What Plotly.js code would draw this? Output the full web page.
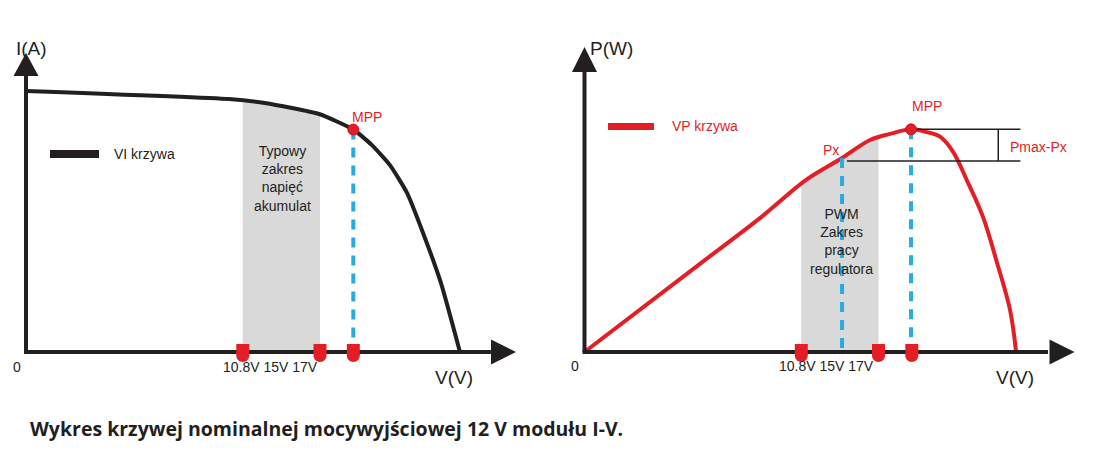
<!DOCTYPE html>
<html>
<head>
<meta charset="utf-8">
<script src="https://cdn.plot.ly/plotly-3.0.1.min.js"></script>
<style>html,body{margin:0;padding:0;background:#fff;}#chart{width:1093px;height:454px;}</style>
</head>
<body>
<div id="chart"></div>
<script>
// ---------- data ----------
// VI curve (left panel): voltage [V-ish units], current [arbitrary units]
const viVoltage = [0, 10.36, 12.19, 14.95, 16.7, 17.65, 18.57, 19.44, 20.20, 21.17, 22.14];
const viCurrent = [8.73, 8.46, 8.33, 7.96, 7.44, 6.92, 6.25, 5.32, 4.08, 2.31, 0];
// VP curve (right panel): voltage, power
const vpVoltage = [0, 5.89, 8.95, 11.34, 13.14, 14.57, 15.59, 16.66, 17.46, 18.14, 18.80, 19.50, 20.33, 21.05, 21.71, 22.02];
const vpPower   = [0, 28.9, 43.9, 56.6, 63.6, 69.5, 71.5, 73.0, 72.1, 70.6, 65.7, 56.4, 44.3, 29.2, 13.8, 0];
// battery / PWM range and marker positions on the voltage axis
const bandVoltage = [11.06, 15.0];
const axisMarkVoltage = [11.06, 15.0, 16.7];
// maximum power points and Px
const mppLeft = {v: 16.7, i: 7.44};
const mppRight = {v: 16.66, p: 73.0};
const pxPoint = {v: 13.14, p: 63.6};
// Pmax-Px bracket
const bracketLevels = [73.0, 62.6];
const bracketStart = [16.66, 13.39];
const bracketEnd = 22.24;
const bracketBar = 21.11;
// tick labels
const markLabel = "10.8V 15V 17V";

// ---------- helpers ----------
const W = 1093, H = 454;
const px = x => x / W;
const py = y => 1 - y / H;
function interp(xs, ys, x) {
  for (let k = 0; k < xs.length - 1; k++) {
    if (x >= xs[k] && x <= xs[k + 1]) {
      const t = (x - xs[k]) / (xs[k + 1] - xs[k]);
      return ys[k] + t * (ys[k + 1] - ys[k]);
    }
  }
  return 0;
}
function bandPolygon(xs, ys) {
  const bx = [bandVoltage[0]], by = [interp(xs, ys, bandVoltage[0])];
  xs.forEach((x, k) => { if (x > bandVoltage[0] && x < bandVoltage[1]) { bx.push(x); by.push(ys[k]); } });
  bx.push(bandVoltage[1]); by.push(interp(xs, ys, bandVoltage[1]));
  bx.push(bandVoltage[1], bandVoltage[0]); by.push(0, 0);
  return {x: bx, y: by};
}

const INK = '#231f20', RED = '#e31e24', BLUE = '#29abe2', GRAY = '#d9d9d9';
const FONT = 'Liberation Sans, Arial, sans-serif';

const bandL = bandPolygon(viVoltage, viCurrent);
const bandR = bandPolygon(vpVoltage, vpPower);

const traces = [
  // left panel
  {x: bandL.x, y: bandL.y, xaxis: 'x', yaxis: 'y', type: 'scatter', mode: 'lines', fill: 'toself', fillcolor: GRAY, line: {width: 0, color: GRAY}, hoverinfo: 'skip'},
  {x: viVoltage, y: viCurrent, xaxis: 'x', yaxis: 'y', type: 'scatter', mode: 'lines', line: {color: INK, width: 4, shape: 'spline', smoothing: 0.5}},
  {x: [mppLeft.v, mppLeft.v], y: [mppLeft.i, 0], xaxis: 'x', yaxis: 'y', type: 'scatter', mode: 'lines', line: {color: BLUE, width: 4, dash: '10px,8px'}},
  {x: [mppLeft.v], y: [mppLeft.i], xaxis: 'x', yaxis: 'y', type: 'scatter', mode: 'markers', marker: {color: RED, size: 11, line: {color: '#c8102e', width: 1}}},
  // right panel
  {x: bandR.x, y: bandR.y, xaxis: 'x2', yaxis: 'y2', type: 'scatter', mode: 'lines', fill: 'toself', fillcolor: GRAY, line: {width: 0, color: GRAY}, hoverinfo: 'skip'},
  {x: vpVoltage, y: vpPower, xaxis: 'x2', yaxis: 'y2', type: 'scatter', mode: 'lines', line: {color: RED, width: 4, shape: 'spline', smoothing: 1.0}},
  {x: [pxPoint.v, pxPoint.v], y: [pxPoint.p, 0], xaxis: 'x2', yaxis: 'y2', type: 'scatter', mode: 'lines', line: {color: BLUE, width: 4, dash: '10px,8px'}},
  {x: [mppRight.v, mppRight.v], y: [mppRight.p, 0], xaxis: 'x2', yaxis: 'y2', type: 'scatter', mode: 'lines', line: {color: BLUE, width: 4, dash: '10px,8px'}},
  {x: [bracketStart[0], bracketEnd, null, bracketStart[1], bracketEnd, null, bracketBar, bracketBar],
   y: [bracketLevels[0], bracketLevels[0], null, bracketLevels[1], bracketLevels[1], null, bracketLevels[0], bracketLevels[1]],
   xaxis: 'x2', yaxis: 'y2', type: 'scatter', mode: 'lines', line: {color: INK, width: 1.5}},
  {x: [mppRight.v], y: [mppRight.p], xaxis: 'x2', yaxis: 'y2', type: 'scatter', mode: 'markers', marker: {color: RED, size: 11, line: {color: '#c8102e', width: 1}}}
];

// ---------- shapes ----------
const shapes = [];
function axisShapes(xr, yr, xEnd, yEnd, xTip, yTip, xBase, yBase) {
  shapes.push({type: 'line', xref: xr, yref: yr, x0: 0, x1: xEnd, y0: 0, y1: 0, line: {color: INK, width: 4}, layer: 'above'});
  shapes.push({type: 'line', xref: xr, yref: yr, x0: 0, x1: 0, y0: 0, y1: yEnd, line: {color: INK, width: 4}, layer: 'above'});
  shapes.push({type: 'path', xref: xr, yref: yr, xsizemode: 'pixel', ysizemode: 'pixel', xanchor: xTip, yanchor: 0,
    path: 'M -' + xBase + ',-12.5 L 0,0 L -' + xBase + ',12.5 Z', fillcolor: INK, line: {width: 0}, layer: 'above'});
  shapes.push({type: 'path', xref: xr, yref: yr, xsizemode: 'pixel', ysizemode: 'pixel', xanchor: 0, yanchor: yTip,
    path: 'M -12.5,-' + yBase + ' L 0,0 L 12.5,-' + yBase + ' Z', fillcolor: INK, line: {width: 0}, layer: 'above'});
  shapes.push({type: 'rect', xref: xr, yref: yr, xsizemode: 'pixel', ysizemode: 'pixel', xanchor: 0, yanchor: 0,
    x0: -2, x1: 2, y0: -2, y1: 2, fillcolor: INK, line: {width: 0}, layer: 'above'});
  axisMarkVoltage.forEach(v => {
    shapes.push({type: 'path', xref: xr, yref: yr, xsizemode: 'pixel', ysizemode: 'pixel', xanchor: v, yanchor: 0,
      path: 'M -6.5,8 L 6.5,8 L 6.5,-3.5 C 6.5,-7.1 3.6,-10 0,-10 C -3.6,-10 -6.5,-7.1 -6.5,-3.5 Z',
      fillcolor: RED, line: {width: 0}, layer: 'above'});
  });
}
axisShapes('x', 'y', 23.72, 9.23, 25, 10, 25, 23);
axisShapes('x2', 'y2', 23.65, 91.8, 25, 100, 25, 25);
shapes.push({type: 'rect', xref: 'paper', yref: 'paper', x0: px(50), x1: px(99), y0: py(158), y1: py(150), fillcolor: INK, line: {width: 0}});
shapes.push({type: 'rect', xref: 'paper', yref: 'paper', x0: px(608), x1: px(654), y0: py(130), y1: py(123), fillcolor: RED, line: {width: 0}});

// ---------- annotations ----------
function label(text, x, y, size, color, extra) {
  return Object.assign({text: text, xref: 'paper', yref: 'paper', x: px(x), y: py(y), xanchor: 'center', yanchor: 'middle',
    showarrow: false, font: {family: FONT, size: size, color: color}}, extra || {});
}
const annotations = [
  label('I(A)', 31, 48, 19, INK),
  label('P(W)', 611, 48, 19, INK),
  label('V(V)', 454, 377, 19, INK),
  label('V(V)', 1015, 377, 19, INK),
  label('0', 17, 367, 14, INK),
  label('0', 575, 366, 14, INK),
  label(markLabel, 270, 367, 14, INK),
  label(markLabel, 826.5, 366, 14, INK),
  label('VI krzywa', 112, 154, 14, INK, {xanchor: 'left'}),
  label('VP krzywa', 670, 126, 14, RED, {xanchor: 'left'}),
  label('MPP', 367, 117, 14, RED),
  label('MPP', 927, 106, 14, RED),
  label('Px', 831, 150, 14, RED),
  label('Pmax-Px', 1038, 146.5, 14, RED),
  label('Typowy<br>zakres<br>napięć<br>akumulat', 282, 178.5, 14, INK),
  label('PWM<br>Zakres<br>pracy<br>regulatora', 841.5, 241, 14, INK),
  label('Wykres krzywej nominalnej mocywyjściowej 12 V modułu I-V.', 28, 428, 19.5, INK,
    {xanchor: 'left', font: {family: 'Open Sans, Noto Sans, sans-serif', size: 19.5, color: INK, weight: 700}})
];

// axes are laid out so that 0 sits on the drawn axis lines, with a little room around for arrowheads and tabs
const KX = 19.6, KYL = 29.9, KYR = 3.05;
const xRange = [-1, 25.8];
const yRangeL = [-0.7, 10.4], yRangeR = [-7, 102];
function xDom(x0) { return [px(x0 + xRange[0] * KX), px(x0 + xRange[1] * KX)]; }
function yDom(y0, k, r) { return [py(y0 - r[0] * k), py(y0 - r[1] * k)]; }

const hidden = {visible: false, showgrid: false, zeroline: false, fixedrange: true};
const layout = {
  width: W, height: H, margin: {l: 0, r: 0, t: 0, b: 0, pad: 0},
  paper_bgcolor: '#ffffff', plot_bgcolor: '#ffffff', showlegend: false,
  xaxis: Object.assign({domain: xDom(26), range: xRange}, hidden),
  yaxis: Object.assign({domain: yDom(352, KYL, yRangeL), range: yRangeL}, hidden),
  xaxis2: Object.assign({domain: xDom(584.5), range: xRange, anchor: 'y2'}, hidden),
  yaxis2: Object.assign({domain: yDom(352, KYR, yRangeR), range: yRangeR, anchor: 'x2'}, hidden),
  shapes: shapes, annotations: annotations
};
Plotly.newPlot('chart', traces, layout, {staticPlot: true, displayModeBar: false});
</script>
</body>
</html>
